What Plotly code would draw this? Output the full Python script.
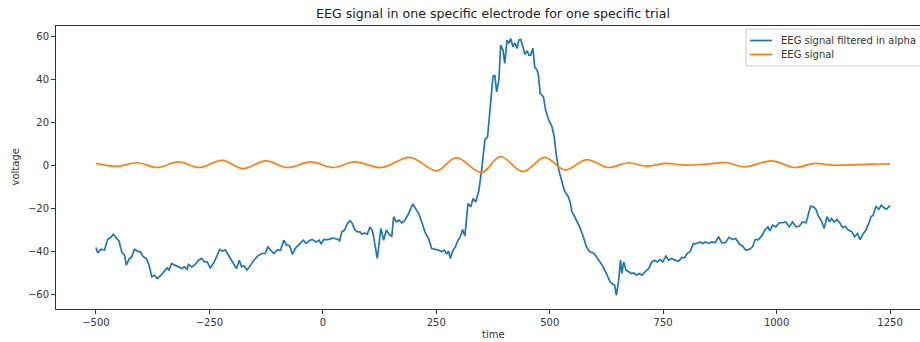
import plotly.graph_objects as go

# ---------------- data ----------------
blue_t = [-500, -496, -489, -481, -474, -468, -462, -456, -449, -443, -437, -433, -427, -421, -415, -408,
          -402, -396, -389, -383, -377, -371, -365, -358, -349, -343, -339, -333, -326, -318, -311, -305,
          -299, -296, -289, -281, -274, -267, -261, -255, -248, -240, -234, -227, -221, -215, -208, -199,
          -190, -184, -179, -174, -167, -159, -152, -143, -134, -127, -121, -115, -108, -101, -93, -86,
          -80, -73, -67, -61, -52,
          -43, -37, -30, -23, -15, -8, -4, 2, 12, 19, 26, 34, 37, 42, 48, 54, 60, 65, 70, 76, 82, 86,
          92, 98, 104, 110, 115, 120, 124, 128, 134, 140, 146, 152, 156, 162, 168, 174, 181, 189, 198,
          205, 212, 218, 225, 233, 240, 248, 255, 262, 268, 273, 277, 281, 286, 292, 298, 303, 308, 313,
          320, 326, 331, 337, 344, 350, 357, 363, 369, 375, 379, 383, 388, 392, 397, 401, 406, 410, 414,
          419, 423, 428, 432, 436, 441, 445, 450, 454, 458, 463, 467, 472, 475, 479, 486, 491, 498, 505,
          510, 514, 520, 526, 532, 536, 541, 545, 549, 555,
          559, 566, 574, 581, 588, 596, 603, 611, 618, 625, 633, 639, 643, 647, 652, 656, 659, 663, 668,
          674, 680, 685, 691, 697, 703, 710, 718, 725, 731, 737, 743, 749, 756, 762, 769, 776, 784, 791,
          797, 803, 809, 816, 824,
          831, 837, 843, 850, 857, 865, 872, 879, 887, 895, 903, 910, 918, 925, 932, 940, 947, 953, 960,
          968, 975, 981, 985, 991, 998, 1006, 1013, 1020, 1028, 1035, 1043, 1050, 1057, 1065, 1070, 1075,
          1081, 1087, 1092, 1098, 1105, 1111, 1117, 1121, 1127, 1133, 1139, 1145, 1151, 1158, 1166, 1172,
          1178, 1184, 1190, 1197, 1203, 1208, 1213, 1219, 1225, 1231, 1236, 1242, 1248, 1250]

blue_v = [-38.3, -40.8, -39.1, -39.5, -34.4, -33.8, -32.2, -33.8, -35.3, -40.6, -41.9, -46.5, -43.7, -42.6,
          -39.1, -40.0, -40.3, -42.6, -43.4, -46.5, -51.9, -51.2, -52.7, -51.5, -49.3, -47.8, -48.8, -45.7,
          -46.5, -47.3, -48.1, -47.3, -48.4, -46.2, -47.3, -46.2, -44.2, -43.4, -45.0, -45.0, -47.8, -45.3,
          -42.6, -39.2, -40.0, -39.4, -41.9, -45.0, -48.1, -44.2, -47.3, -46.8, -48.8, -46.5, -44.2, -42.2,
          -41.1, -41.1, -38.0, -39.5, -41.1, -39.5, -39.5, -34.9, -37.2, -37.5, -41.5, -38.8, -36.9,
          -34.9, -36.4, -35.2, -34.6, -35.7, -34.9, -36.7, -34.6, -34.6, -34.1, -34.1, -34.6, -35.2, -31.0,
          -30.2, -27.1, -25.9, -27.1, -29.9, -31.0, -31.0, -32.1, -31.5, -32.1, -28.7, -31.0, -36.4, -43.4,
          -36.4, -29.4, -34.9, -30.2, -32.1, -33.3, -24.0, -26.4, -25.6, -26.8, -25.6, -22.5, -18.1, -20.6,
          -22.8, -26.4, -31.0, -34.1, -38.8, -39.2, -39.5, -40.3, -39.5, -41.4, -39.9, -43.4, -39.9, -38.0,
          -34.9, -33.3, -29.9, -33.0,
          -17.8, -19.4, -15.5, -17.1, -11.6, -2.3, 11.6, 13.2, 28.7, 41.1, 41.9, 34.1, 39.5, 55.8, 53.5,
          47.3, 58.1, 56.6, 58.9, 55.0, 56.9, 54.3, 58.1, 58.5, 55.0, 51.6, 53.2, 51.2, 51.2, 54.3, 45.7,
          44.2, 41.9, 33.3, 31.8, 25.6, 20.9, 17.8, 13.2, 5.4, -2.3, -7.0, -11.6, -13.2, -14.7, -17.1,
          -21.7, -24.0,
          -25.6, -28.7, -33.3, -38.0, -40.3, -40.8, -42.6, -45.0, -47.3, -50.4, -54.3, -55.3, -55.8, -60.5,
          -53.5, -44.2, -50.4, -45.0, -48.8, -49.6, -50.4, -50.1, -51.2, -50.4, -51.2, -49.6, -48.1, -45.0,
          -44.2, -45.0, -43.9, -45.0, -42.3, -44.2, -43.4, -44.2, -44.7, -42.9, -43.1, -41.1, -40.3, -36.7,
          -36.4,
          -35.7, -36.4, -35.7, -36.4, -35.7, -36.1, -33.3, -36.1, -36.1, -33.6, -34.6, -34.1, -36.7, -37.7,
          -39.5, -39.2, -38.0, -34.6, -34.6, -32.6, -29.9, -28.7, -30.6, -27.9, -28.7, -26.8, -26.8, -26.4,
          -28.7, -26.4, -28.7, -28.4, -26.4, -26.8, -22.8, -19.1, -19.4, -20.6, -23.7, -25.6, -29.4, -24.0,
          -26.4, -24.8, -26.4, -25.3, -26.8, -29.0, -28.4, -30.2, -31.0, -33.3, -31.8, -34.6, -32.1, -30.2,
          -27.1, -24.0, -23.3, -19.1, -20.6, -18.6, -19.7, -20.6, -19.1, -19.4]

orange_t = [-500, -455, -409, -365, -318, -272, -222, -176, -126, -77, -27, 23, 70, 129, 192, 251, 294,
            350, 391, 441, 489, 534, 581, 629, 673, 713, 754, 798, 846, 890, 930, 989, 1040, 1084,
            1121, 1151, 1209, 1250]
orange_v = [0.8, -0.6, 1.1, -1.1, 1.5, -1.1, 2.2, -1.6, 2.0, -1.1, 1.5, -1.1, 1.5, -1.1, 3.6, -2.6, 3.5,
            -3.4, 4.0, -3.0, 3.6, -2.3, 2.6, -1.1, 1.1, -0.5, 0.8, 0.0, 0.5, 1.1, -0.8, 2.0, -1.1, 0.8,
            0.0, 0.0, 0.5, 0.5]

# legend labels as visible in the reference (first one is cut by the image edge there)
series_names = ["EEG signal filtered in alpha", "EEG signal"]
x_ticks = [-500, -250, 0, 250, 500, 750, 1000, 1250]
y_ticks = [-60, -40, -20, 0, 20, 40, 60]
title_text = "EEG signal in one specific electrode for one specific trial"

BLUE = "#1f77b4"
ORANGE = "#ff7f0e"
INK = "#333333"
FONT = "DejaVu Sans"

W, H = 920, 342
ML, MT, MB = 56, 26, 33
PW, PH = W - ML, H - MT - MB


def px(xp):
    return (xp - ML) / PW


def py(yp):
    return (H - MB - yp) / PH


fig = go.Figure()
fig.add_trace(go.Scatter(x=blue_t, y=blue_v, mode="lines", name=series_names[0],
                         line=dict(color=BLUE, width=1.7), showlegend=False))
fig.add_trace(go.Scatter(x=orange_t, y=orange_v, mode="lines", name=series_names[1],
                         line=dict(color=ORANGE, width=1.7, shape="spline", smoothing=1.0),
                         showlegend=False))

axis_common = dict(showgrid=False, zeroline=False, showline=True, linecolor=INK, linewidth=1,
                   ticks="outside", ticklen=4, tickwidth=1, tickcolor=INK,
                   tickfont=dict(family=FONT, size=10, color=INK))

fig.update_xaxes(range=[-588, 1316], tickvals=x_ticks, mirror=True, **axis_common)
fig.update_yaxes(range=[-66.9, 64.7], tickvals=y_ticks, mirror=False, **axis_common)

# legend drawn as a box (its right side runs off the image edge, as in the reference)
shapes = [
    dict(type="rect", xref="paper", yref="paper", x0=px(746), x1=px(940), y0=py(66), y1=py(29),
         line=dict(color="#cccccc", width=1), fillcolor="white", layer="above"),
    dict(type="line", xref="paper", yref="paper", x0=px(750), x1=px(772), y0=py(40.5), y1=py(40.5),
         line=dict(color=BLUE, width=1.7), layer="above"),
    dict(type="line", xref="paper", yref="paper", x0=px(750), x1=px(772), y0=py(54.5), y1=py(54.5),
         line=dict(color=ORANGE, width=1.7), layer="above"),
]

annotations = [
    dict(text=series_names[0], xref="paper", yref="paper", x=px(779), y=py(40.5), xanchor="left",
         yanchor="middle", showarrow=False, font=dict(family=FONT, size=10, color=INK)),
    dict(text=series_names[1], xref="paper", yref="paper", x=px(779), y=py(54.5), xanchor="left",
         yanchor="middle", showarrow=False, font=dict(family=FONT, size=10, color=INK)),
    dict(text="time", xref="paper", yref="paper", x=px(493), y=py(334), xanchor="center",
         yanchor="middle", showarrow=False, font=dict(family=FONT, size=10, color=INK)),
    dict(text="voltage", xref="paper", yref="paper", x=px(15), y=py(167.5), xanchor="center",
         yanchor="middle", showarrow=False, textangle=-90, font=dict(family=FONT, size=10, color=INK)),
]

fig.update_layout(
    width=W, height=H,
    margin=dict(l=ML, r=0, t=MT, b=MB, pad=0, autoexpand=False),
    paper_bgcolor="white", plot_bgcolor="white",
    title=dict(text=title_text, x=493 / W, xref="container", xanchor="center",
               y=1 - 14 / H, yref="container", yanchor="middle",
               font=dict(family=FONT, size=12.6, color="#222222")),
    shapes=shapes, annotations=annotations, showlegend=False,
)

fig.write_html("out.html")
